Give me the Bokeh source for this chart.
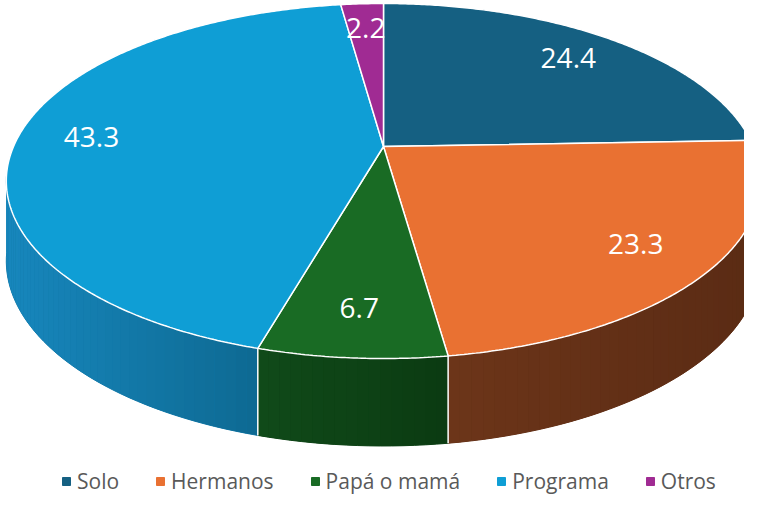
import numpy as np
from bokeh.plotting import figure
from bokeh.models import Range1d, Legend, LegendItem
from bokeh.core.properties import value
from bokeh.embed import file_html
from bokeh.resources import INLINE

# ---- data ----
categories = ["Solo", "Hermanos", "Papá o mamá", "Programa", "Otros"]
values = [24.4, 23.3, 6.7, 43.3, 2.2]
labels = ["24.4", "23.3", "6.7", "43.3", "2.2"]

# ---- style ----
top_colors = ["#156082", "#E97132", "#196B24", "#0F9ED5", "#A02B93"]
side_left = ["#0E445D", "#6C3519", "#104A19", "#1787BD", "#6E1D65"]
side_right = ["#0B3A50", "#5A2B14", "#0B3B12", "#0E6A93", "#5A1752"]

CX, CY = 383.0, 146.0
RX, RY = 370.0, 170.8
K = 0.1944
H = 78.5
LABEL_F = 0.8


def proj(theta_deg, f=1.0):
    t = np.radians(theta_deg)
    u = f * np.sin(t)
    v = -f * np.cos(t)
    s = 1.0 / (1.0 - K * v)
    return CX + RX * u * s, CY + RY * v * s, v, s


def hex2rgb(h):
    h = h.lstrip("#")
    return np.array([int(h[i:i + 2], 16) for i in (0, 2, 4)], dtype=float)


def mix(c1, c2, t):
    a, b = hex2rgb(c1), hex2rgb(c2)
    c = a + (b - a) * t
    return "#%02x%02x%02x" % tuple(int(round(x)) for x in c)


total = float(sum(values))
bounds = np.concatenate([[0.0], np.cumsum(values)]) / total * 360.0

p = figure(width=744, height=500, x_range=Range1d(0, 744), y_range=Range1d(500, 0),
           output_backend="svg", toolbar_location=None, min_border=0,
           x_axis_location=None, y_axis_location=None)
p.grid.visible = False
p.outline_line_color = None
p.background_fill_color = "white"
p.border_fill_color = "white"

# ---- side faces ----
base_xs, base_ys, base_cols = [], [], []
strips = []
for i in range(len(values)):
    a, b = bounds[i], bounds[i + 1]
    n = max(2, int(np.ceil((b - a) / 1.5)))
    th = np.linspace(a, b, n + 1)
    x, y, v, s = proj(th)
    yb = y + H * np.sqrt(s)
    vm = 0.5 * (v[:-1] + v[1:])
    keep = np.where(vm >= K - 0.04)[0]
    if len(keep) == 0:
        continue
    j0, j1 = keep[0], keep[-1] + 1
    bx = np.concatenate([x[j0:j1 + 1], x[j0:j1 + 1][::-1]])
    by = np.concatenate([y[j0:j1 + 1], yb[j0:j1 + 1][::-1]])
    base_xs.append(bx.tolist())
    base_ys.append(by.tolist())
    base_cols.append(mix(side_left[i], side_right[i], 0.5))
    xm = 0.5 * (x[:-1] + x[1:])
    xmin, xmax = xm[keep].min(), xm[keep].max()
    for j in keep:
        t = 0.0 if xmax == xmin else (xm[j] - xmin) / (xmax - xmin)
        strips.append((vm[j], [x[j], x[j + 1], x[j + 1], x[j]],
                       [y[j], y[j + 1], yb[j + 1], yb[j]],
                       mix(side_left[i], side_right[i], t)))

p.patches(xs=base_xs, ys=base_ys, fill_color=base_cols, line_color=base_cols, line_width=1)
strips.sort(key=lambda s: s[0])
p.patches(xs=[s[1] for s in strips], ys=[s[2] for s in strips],
          fill_color=[s[3] for s in strips], line_color=None)

# white vertical edges between visible sides
ex, ey = [], []
for bnd in bounds[1:-1]:
    x, y, v, s = proj(bnd)
    if v >= K:
        ex.append([x, x])
        ey.append([y, y + H * np.sqrt(s)])
if ex:
    p.multi_line(xs=ex, ys=ey, line_color="white", line_width=1.5)

# ---- top faces ----
txs, tys = [], []
for i in range(len(values)):
    a, b = bounds[i], bounds[i + 1]
    th = np.linspace(a, b, max(3, int((b - a) / 0.5)))
    x, y, _, _ = proj(th)
    txs.append(np.concatenate([[CX], x]).tolist())
    tys.append(np.concatenate([[CY], y]).tolist())
p.patches(xs=txs, ys=tys, fill_color=top_colors, line_color="white", line_width=1.5)

# ---- labels ----
mids = 0.5 * (bounds[:-1] + bounds[1:])
lx, ly, _, _ = proj(mids, LABEL_F)
p.text(x=lx, y=ly, text=labels, text_color="white", text_font=value("Open Sans"),
       text_font_size="28px", text_align="center", text_baseline="middle")

# ---- legend ----
items = []
for c, col in zip(categories, top_colors):
    r = p.scatter(x=[-1000], y=[-1000], marker="square", size=8,
                  fill_color=col, line_color=col)
    items.append(LegendItem(label=c, renderers=[r]))
legend = Legend(items=items, orientation="horizontal", location=(56, 5),
                glyph_width=20, glyph_height=20, label_standoff=1, spacing=31,
                padding=0, margin=0, border_line_color=None, background_fill_alpha=0,
                label_text_font="Open Sans", label_text_font_size="21px",
                label_text_color="#595959", label_height=20)
p.add_layout(legend, "center")

open("out.html", "w").write(file_html(p, INLINE))
